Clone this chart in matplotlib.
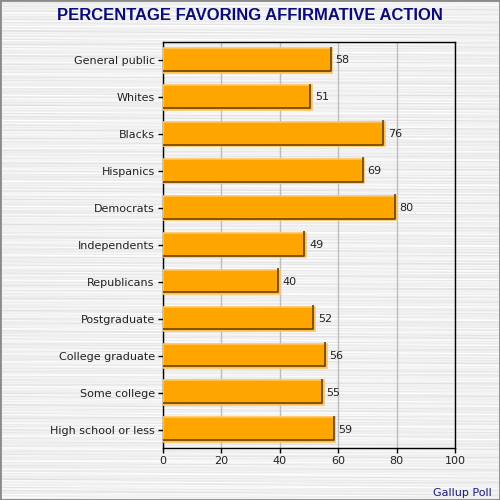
import numpy as np
import matplotlib
matplotlib.use("Agg")
import matplotlib.pyplot as plt
from matplotlib.transforms import offset_copy
from matplotlib.patches import Rectangle

categories = ["General public", "Whites", "Blacks", "Hispanics", "Democrats",
              "Independents", "Republicans", "Postgraduate", "College graduate",
              "Some college", "High school or less"]
values = [58, 51, 76, 69, 80, 49, 40, 52, 56, 55, 59]
xticks = [0, 20, 40, 60, 80, 100]

fig = plt.figure(figsize=(5, 5), dpi=100)

# brushed metal style background (deterministic streaks)
bg = fig.add_axes([0, 0, 1, 1], zorder=-10)
yy, xx = np.mgrid[0:500, 0:500]
tex = (0.925
       + 0.035 * np.sin(yy * 1.9) * np.sin(xx * 0.011 + yy * 0.37)
       + 0.025 * np.sin(yy * 0.73 + 1.3) * np.cos(xx * 0.004 + yy * 0.21)
       + 0.02 * np.sin(yy * 3.1) * np.sin(xx * 0.023 + yy * 0.9)
       + 0.02 * np.cos((xx - 250) / 300.0))
bg.imshow(np.clip(tex, 0, 1), cmap="gray", vmin=0, vmax=1, aspect="auto")
bg.set_axis_off()
fig.patches.append(Rectangle((0, 0), 1, 1, transform=fig.transFigure,
                             fill=False, edgecolor="#8a8a8a", lw=2))

ax = fig.add_axes([0.326, 0.104, 0.584, 0.812])
ax.patch.set_alpha(0)
y = np.arange(len(categories))
h = 0.66
ax.barh(y, values, height=h, color="#FFA500", edgecolor="#FFC560", lw=1.2, zorder=3)
shadow = offset_copy(ax.transData, fig=fig, x=-1.6, y=1.6, units="dots")
for yi, v in zip(y, values):
    ax.plot([v, v, 0], [yi - h / 2, yi + h / 2, yi + h / 2], color="#6b4500",
            lw=1.2, transform=shadow, zorder=4, solid_capstyle="butt")
    ax.text(v + 1.0, yi, str(v), va="center", ha="left", fontsize=8,
            color="#222222", zorder=5)

ax.set_xlim(0, 100)
ax.set_ylim(len(categories) - 0.5, -0.5)
ax.set_yticks(y)
ax.set_yticklabels(categories, fontsize=8, color="#222222")
ax.set_xticks(xticks)
ax.set_xticklabels([str(t) for t in xticks], fontsize=8, color="#222222")
ax.tick_params(axis="both", length=3.5, width=1, color="black", pad=2.5)
ax.grid(axis="x", color="#bdbdbd", lw=1, zorder=1)
for s in ax.spines.values():
    s.set_color("black")
    s.set_linewidth(1)

fig.text(0.5, 0.968, "PERCENTAGE FAVORING AFFIRMATIVE ACTION", ha="center", va="center",
         fontsize=12, fontweight="bold", color="#0a0a78", family="Liberation Sans")
fig.text(0.984, 0.014, "Gallup Poll", ha="right", va="center", fontsize=8,
         color="#1a1a80")

fig.savefig("out.png", dpi=100)
